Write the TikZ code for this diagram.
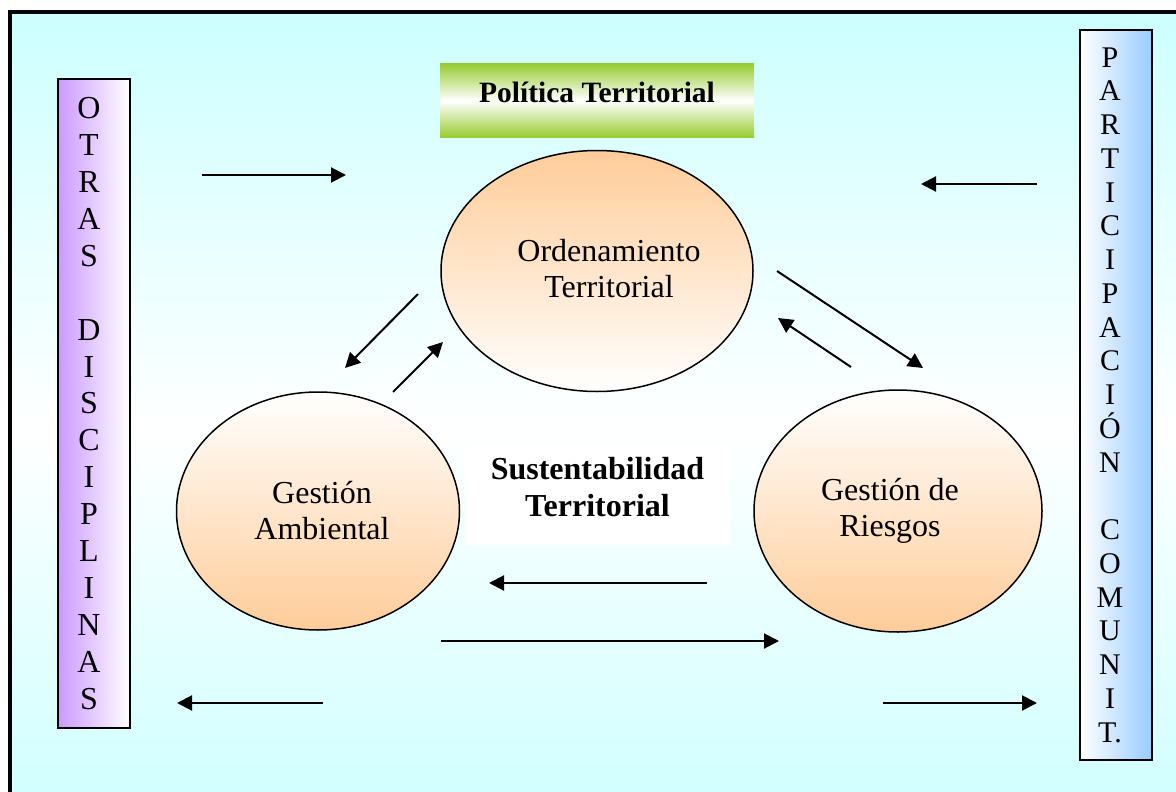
\documentclass[tikz,border=0pt]{standalone}
\usepackage{fontspec}
\setmainfont{Liberation Serif}
\usetikzlibrary{shapes.geometric,arrows.meta}
\definecolor{bgcyan}{RGB}{204,255,255}
\definecolor{lilac}{RGB}{204,153,255}
\definecolor{skyb}{RGB}{153,204,255}
\definecolor{leaf}{RGB}{153,204,51}
\definecolor{peach}{RGB}{255,204,153}
\begin{document}
\begin{tikzpicture}[x=1pt,y=-1pt,
  arr/.style={line width=2pt,-{Triangle[length=15pt,width=15pt]}},
  bubble/.style={ellipse,draw,line width=1.5pt,inner sep=0pt},
  bigtxt/.style={font=\fontsize{32}{36}\selectfont,align=center},
  bartxt/.style={align=center},
  barbox/.style={draw,line width=1.3pt,inner sep=0pt},
]
\useasboundingbox (0,0) rectangle (1176,792);
% background frame
\path[draw=black,line width=3.5pt,top color=bgcyan,bottom color=bgcyan,middle color=white] (10,12) rectangle (1200,840);

% side bars
\node[barbox,minimum width=72pt,minimum height=649pt,left color=lilac,right color=white,
  label={[bartxt,font=\fontsize{32}{36.9}\selectfont,xshift=-5pt]center:O\\T\\R\\A\\S\\[36.9pt]D\\I\\S\\C\\I\\P\\L\\I\\N\\A\\S}]
  (otras) at (94,403.5) {};
\node[barbox,minimum width=72pt,minimum height=730pt,left color=white,right color=skyb,
  label={[bartxt,font=\fontsize{30}{33.75}\selectfont,xshift=-6pt]center:P\\A\\R\\T\\I\\C\\I\\P\\A\\C\\I\\Ó\\N\\[33.75pt]C\\O\\M\\U\\N\\I\\T.}]
  (part) at (1116,395) {};

% title box
\node[minimum width=314pt,minimum height=73pt,inner sep=0pt,top color=leaf,bottom color=leaf,middle color=white,
  label={[font=\bfseries\fontsize{29.5}{34}\selectfont,yshift=8.5pt]center:Política Territorial}]
  (pol) at (597,100.5) {};

% white box
\node[fill=white,minimum width=265pt,minimum height=100pt,inner sep=0pt,
  label={[font=\bfseries\fontsize{32}{37}\selectfont,align=center,yshift=8pt]center:Sustentabilidad\\Territorial}]
  (sus) at (597.5,495) {};

% ellipses
\node[bubble,minimum width=312pt,minimum height=241pt,top color=peach,bottom color=white,
  label={[bigtxt,xshift=12pt,yshift=2pt]center:Ordenamiento\\Territorial}] (ord) at (597,271) {};
\node[bubble,minimum width=283pt,minimum height=238pt,top color=white,bottom color=peach,
  label={[bigtxt,xshift=4pt]center:Gestión\\Ambiental}] (amb) at (318,511) {};
\node[bubble,minimum width=288pt,minimum height=242pt,top color=white,bottom color=peach,
  label={[bigtxt,xshift=-8pt]center:Gestión de\\Riesgos}] (rie) at (898,511) {};

% arrow end points
\coordinate (a1s) at (202,175);  \coordinate (a1e) at (346,175);
\coordinate (a2s) at (1037,184); \coordinate (a2e) at (921,184);
\coordinate (a3s) at (323,703);  \coordinate (a3e) at (177,703);
\coordinate (a4s) at (883,703);  \coordinate (a4e) at (1037,703);
\coordinate (a5s) at (707,583);  \coordinate (a5e) at (489,583);
\coordinate (a6s) at (441,641);  \coordinate (a6e) at (779,641);
\coordinate (a7s) at (418,294);  \coordinate (a7e) at (345,368);
\coordinate (a8s) at (393,392);  \coordinate (a8e) at (443,342);
\coordinate (a9s) at (777,271);  \coordinate (a9e) at (923,368);
\coordinate (a10s) at (851,367); \coordinate (a10e) at (778,318);

\draw[arr] (a1s) -- (a1e);
\draw[arr] (a2s) -- (a2e);
\draw[arr] (a3s) -- (a3e);
\draw[arr] (a4s) -- (a4e);
\draw[arr] (a5s) -- (a5e);
\draw[arr] (a6s) -- (a6e);
\draw[arr] (a7s) -- (a7e);
\draw[arr] (a8s) -- (a8e);
\draw[arr] (a9s) -- (a9e);
\draw[arr] (a10s) -- (a10e);
\end{tikzpicture}
\end{document}
